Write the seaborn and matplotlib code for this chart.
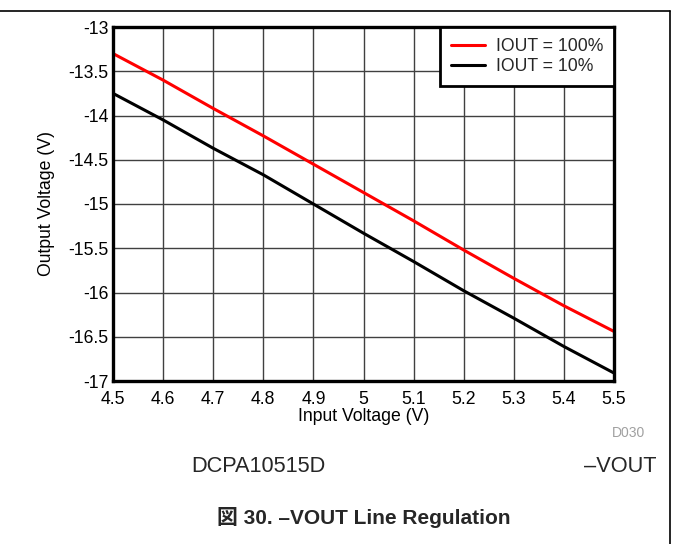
"""Line regulation chart: output voltage vs input voltage."""

import matplotlib

matplotlib.use("Agg")

import matplotlib.pyplot as plt
import pandas as pd
import seaborn as sns
from matplotlib.lines import Line2D

input_voltage = [4.5, 4.6, 4.7, 4.8, 4.9, 5.0, 5.1, 5.2, 5.3, 5.4, 5.5]
vout_100 = [-13.30, -13.60, -13.92, -14.23, -14.55, -14.87, -15.19, -15.52, -15.84, -16.15, -16.44]
vout_10 = [-13.75, -14.05, -14.37, -14.67, -15.00, -15.33, -15.65, -15.98, -16.29, -16.61, -16.91]
series_names = ["IOUT = 100%", "IOUT = 10%"]
series_colors = ["#ff0000", "#000000"]

x_ticks = [4.5, 4.6, 4.7, 4.8, 4.9, 5.0, 5.1, 5.2, 5.3, 5.4, 5.5]
x_tick_labels = ["4.5", "4.6", "4.7", "4.8", "4.9", "5", "5.1", "5.2", "5.3", "5.4", "5.5"]
y_ticks = [-17, -16.5, -16, -15.5, -15, -14.5, -14, -13.5, -13]
y_tick_labels = ["-17", "-16.5", "-16", "-15.5", "-15", "-14.5", "-14", "-13.5", "-13"]

frame = pd.DataFrame(
    {
        "vin": input_voltage * 2,
        "vout": vout_100 + vout_10,
        "series": [series_names[0]] * len(vout_100) + [series_names[1]] * len(vout_10),
    }
)

FS = 12.7

sns.set_theme(style="white")
plt.rcParams["font.family"] = ["Liberation Sans", "Noto Sans CJK JP", "DejaVu Sans"]
plt.rcParams["axes.unicode_minus"] = False

fig = plt.figure(figsize=(6.74, 5.44), dpi=100)
ax = fig.add_axes([113 / 674, 1 - 381 / 544, (614 - 113) / 674, (381 - 27) / 544])

sns.lineplot(
    data=frame,
    x="vin",
    y="vout",
    hue="series",
    hue_order=series_names,
    palette=series_colors,
    linewidth=2.2,
    ax=ax,
)

ax.set_xlim(4.5, 5.5)
ax.set_ylim(-17, -13)
ax.set_xticks(x_ticks)
ax.set_xticklabels(x_tick_labels, fontsize=FS, color="black")
ax.set_yticks(y_ticks)
ax.set_yticklabels(y_tick_labels, fontsize=FS, color="black")
ax.tick_params(axis="x", length=0, pad=7.5)
ax.tick_params(axis="y", length=0, pad=3)
ax.grid(True, color="#404040", linewidth=1.0)
for spine in ax.spines.values():
    spine.set_color("black")
    spine.set_linewidth(2.4)
    spine.set_zorder(5)

ax.set_xlabel("Input Voltage (V)", fontsize=FS, color="black", labelpad=0)
ax.set_ylabel("Output Voltage (V)", fontsize=FS, color="black", labelpad=10)

legend = ax.legend(
    loc="upper right",
    fontsize=FS,
    frameon=True,
    fancybox=False,
    borderaxespad=0,
    handlelength=1.95,
    handletextpad=0.6,
    borderpad=0.62,
    labelspacing=0.18,
)
legend.get_frame().set_edgecolor("black")
legend.get_frame().set_linewidth(2.0)
legend.get_frame().set_alpha(1)

fig.text(645 / 674, 1 - 433 / 544, "D030", fontsize=10, color="#a0a0a0", ha="right", va="center")
fig.text(258 / 674, 1 - 467 / 544, "DCPA10515D", fontsize=15.7, ha="center", va="center")
fig.text(657 / 674, 1 - 467 / 544, "\u2013VOUT", fontsize=15.7, ha="right", va="center")
fig.text(364 / 674, 1 - 518 / 544, "図 30. \u2013VOUT Line Regulation", fontsize=15,
         fontweight="bold", ha="center", va="center")

fig.add_artist(Line2D([0, 670 / 674], [1 - 11 / 544, 1 - 11 / 544], color="black", linewidth=1.2))
fig.add_artist(Line2D([670 / 674, 670 / 674], [1 - 11 / 544, 0], color="black", linewidth=1.2))

fig.savefig("out.png", dpi=100)
